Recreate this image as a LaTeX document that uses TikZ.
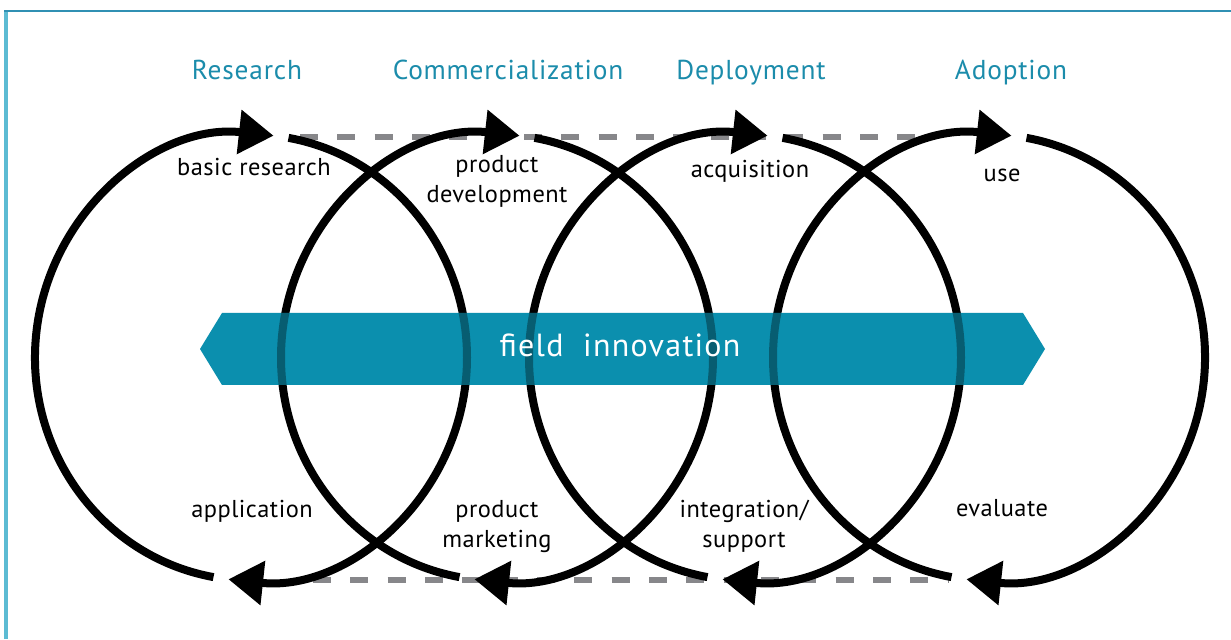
\documentclass[tikz,border=0pt]{standalone}
\usepackage{fontspec}
\setmainfont{PT Sans}
\newfontfamily\bandfont[LetterSpace=4]{PT Sans}
\newfontfamily\ttlfont[LetterSpace=3]{PT Sans}
\newfontfamily\lblfont[LetterSpace=2]{PT Sans}
\usetikzlibrary{arrows.meta}
\definecolor{bandc}{HTML}{0B8FAE}
\definecolor{titlec}{HTML}{1B8CAB}
\definecolor{frameL}{HTML}{5CBBD3}
\definecolor{frameT}{HTML}{3090B3}
\definecolor{dashg}{HTML}{87878A}
\begin{document}
\begin{tikzpicture}[x=0.75pt,y=0.75pt,
  loop/.style={line width=6pt, black},
  tipend/.style={-{Triangle[length=26pt,width=32pt]}},
  dashln/.style={dashg, line width=5.2pt, dash pattern=on 13.5pt off 14.5pt},
  ttl/.style={text=titlec, font=\ttlfont\fontsize{20.5}{22}\selectfont, anchor=base, inner sep=0pt},
  lbl/.style={font=\lblfont\fontsize{18.3}{22.5}\selectfont, anchor=base, inner sep=0pt, align=center},
  bandtxt/.style={text=white, font=\bandfont\fontsize{24}{26}\selectfont, anchor=base, inner sep=0pt},
]
\useasboundingbox (0,0) rectangle (1231,639);
\fill[white] (0,0) rectangle (1231,639);
% frame
\draw[frameL, line width=3pt] (6,0) -- (6,629);
\draw[frameT, line width=1.5pt] (4,627.5) -- (1231,627.5);
% centres
\coordinate (c1) at (251,281.5);
\coordinate (c2) at (497,281.5);
\coordinate (c3) at (745,281.5);
\coordinate (c4) at (989,281.5);
% dashed guide lines
\coordinate (dta) at (300,502);
\coordinate (dtb) at (925,502);
\coordinate (dba) at (313,59);
\coordinate (dbb) at (948,59);
\draw[dashln] (dta) -- (dtb);
\draw[dashln] (dba) -- (dbb);
% loops
\foreach \c in {c1,c2,c3,c4}{
  \draw[loop,tipend] ([shift={(260:216 and 223)}]\c) arc[start angle=260, end angle=84, x radius=216, y radius=223];
  \draw[loop,tipend] ([shift={(80:216 and 223)}]\c) arc[start angle=80, end angle=-96, x radius=216, y radius=223];
}
% band
\fill[bandc] (200,290) -- (222,326) -- (1023,326) -- (1045,290) -- (1023,254) -- (222,254) -- cycle;
\begin{scope}
  \clip (200,290) -- (222,326) -- (1023,326) -- (1045,290) -- (1023,254) -- (222,254) -- cycle;
  \foreach \c in {c1,c2,c3,c4}{
    \draw[loop, opacity=0.35] (\c) ellipse [x radius=216, y radius=223];
  }
\end{scope}
\node[bandtxt] (band) at (620,282) {field\ \ innovation};
% titles
\node[ttl] (t1) at (247,559) {Research};
\node[ttl] (t2) at (508,559) {Commercialization};
\node[ttl] (t3) at (751,559) {Deployment};
\node[ttl] (t4) at (1011,559) {Adoption};
% labels
\node[lbl] (l1) at (254,463) {basic research};
\node[lbl] (l2) at (497,436) {product\\development};
\node[lbl] (l3) at (750,461) {acquisition};
\node[lbl] (l4) at (1002,457) {use};
\node[lbl] (l5) at (252,121) {application};
\node[lbl] (l6) at (497,91) {product\\marketing};
\node[lbl] (l7) at (744,91) {integration/\\support};
\node[lbl] (l8) at (1002,122) {evaluate};
\end{tikzpicture}
\end{document}
